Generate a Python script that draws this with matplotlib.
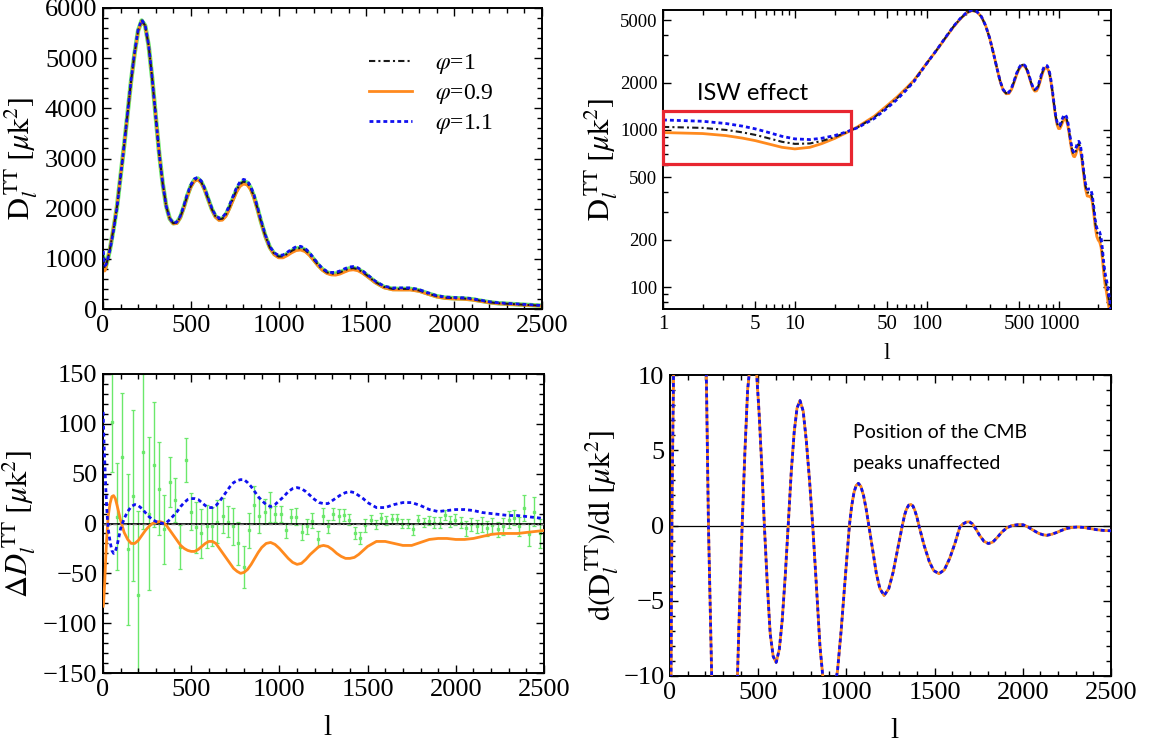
import numpy as np
import matplotlib
matplotlib.use("Agg")
import matplotlib.pyplot as plt
from matplotlib.patches import Rectangle
from matplotlib.ticker import NullFormatter

plt.rcParams['font.family'] = ['Liberation Serif', 'DejaVu Serif']
plt.rcParams['mathtext.fontset'] = 'stix'
plt.rcParams['axes.unicode_minus'] = True

# ---------------- data ----------------
# multipole grid
ell = [1, 2, 3, 4, 5, 6, 8, 10, 13, 16, 20, 25, 30, 40, 50, 60, 70, 80, 100, 120,
       140, 160, 180, 200, 220, 240, 260, 280, 300, 320, 340, 360, 380, 400, 420,
       440, 460, 480, 500, 520, 540, 560, 580, 600, 620, 640, 660, 680, 700, 720,
       740, 760, 780, 800, 820, 840, 860, 880, 900, 925, 950, 975, 1000, 1025,
       1050, 1075, 1100, 1125, 1150, 1175, 1200, 1225, 1250, 1275, 1300, 1325,
       1350, 1375, 1400, 1425, 1450, 1475, 1500, 1550, 1600, 1650, 1700, 1750,
       1800, 1850, 1900, 1950, 2000, 2050, 2100, 2150, 2200, 2250, 2300, 2350,
       2400, 2450, 2500]

# D_l^TT for phi = 1  [muK^2]
dl_phi1 = [1045, 1030, 1000, 965, 930, 895, 840, 815, 820, 850, 900, 970, 1040,
           1200, 1400, 1600, 1820, 2050, 2650, 3250, 3900, 4550, 5100, 5550, 5750,
           5650, 5250, 4600, 3850, 3100, 2500, 2050, 1800, 1710, 1720, 1830, 2030,
           2260, 2450, 2570, 2600, 2530, 2380, 2180, 1990, 1850, 1790, 1800, 1880,
           2030, 2200, 2370, 2490, 2540, 2520, 2420, 2240, 2000, 1740, 1450, 1230,
           1100, 1045, 1050, 1100, 1160, 1205, 1215, 1180, 1100, 990, 880, 790, 730,
           705, 705, 730, 770, 805, 815, 795, 745, 680, 540, 440, 400, 400, 400, 370,
           310, 255, 225, 215, 210, 195, 165, 135, 115, 105, 95, 85, 75, 65]

# Delta D_l^TT relative to phi = 1
ddl_phi09 = [-83, -82, -80, -78, -75, -72, -65, -58, -45, -32, -18, -4, 8, 20, 27,
             28, 25, 18, 3, -9, -16, -20, -20, -17, -12, -7, -3, 0, 1, 2, 1, -2,
             -7, -12, -17, -22, -25, -27, -28, -28, -26, -23, -20, -18, -18, -20,
             -25, -30, -35, -40, -45, -48, -50, -49, -46, -41, -35, -29, -24, -20,
             -19, -21, -25, -30, -35, -39, -41, -40, -36, -31, -27, -23, -22, -23,
             -26, -30, -33, -35, -35, -34, -31, -27, -23, -18, -18, -20, -22, -22,
             -19, -16, -15, -15, -16, -16, -15, -13, -11, -10, -10, -10, -9, -8, -7]
ddl_phi11 = [112, 105, 98, 92, 86, 80, 70, 62, 48, 35, 20, 5, -6, -18, -27, -30,
             -28, -22, -5, 5, 12, 17, 19, 18, 15, 11, 7, 4, 2, 1, 0, 1, 4, 8, 12,
             17, 21, 24, 25, 25, 24, 21, 18, 16, 16, 18, 22, 27, 32, 37, 41, 43,
             44, 44, 41, 37, 32, 27, 23, 19, 17, 19, 23, 27, 32, 35, 36, 35, 32,
             28, 24, 21, 20, 20, 23, 26, 29, 31, 32, 31, 28, 25, 21, 16, 16, 19,
             21, 21, 18, 14, 12, 13, 14, 14, 13, 11, 10, 9, 8, 8, 7, 6, 5]

# binned data residuals (green error bars)
bin_ell = [53, 81, 110, 140, 168, 200, 229, 259, 291, 319, 348, 378, 408, 438,
           469, 499, 527, 557, 588, 618, 648, 678, 708, 739, 767, 798, 828, 858,
           886, 916, 947, 977, 1007, 1037, 1066, 1096, 1126, 1156, 1187, 1217,
           1247, 1276, 1306, 1336, 1366, 1397, 1427, 1457, 1487, 1518, 1548, 1576,
           1606, 1636, 1666, 1697, 1727, 1757, 1787, 1817, 1848, 1878, 1908, 1936,
           1966, 1996, 2027, 2057, 2087, 2118, 2148, 2178, 2208, 2238, 2269, 2299,
           2329, 2359, 2386, 2416, 2446, 2476]
bin_resid = [102, 7, 67, -26, 28, -72, 72, 10, 59, 35, -6, 42, 24, -24, 64, 12,
             -4, -10, -3, -3, 2, 8, 2, -3, -20, -44, -7, 19, 8, 12, 17, 10, 10, -7,
             7, 7, -9, -3, 3, -16, 8, -3, 10, 8, 9, 4, -10, -15, -2, 4, -1, 6, 3,
             5, 5, 0, 0, -6, 4, 1, 3, 1, 1, 9, 2, 4, 1, -5, -1, -3, -1, -5, -2, -6,
             -3, 4, 6, -3, 16, -11, 12, -10]
bin_err = [50, 54, 64, 76, 86, 85, 78, 77, 63, 47, 35, 25, 22, 22, 22, 19, 26, 25,
           22, 20, 22, 18, 16, 19, 22, 21, 18, 19, 18, 13, 15, 8, 8, 8, 8, 9, 8, 8,
           8, 8, 8, 7, 6, 7, 6, 6, 6, 6, 7, 5, 5, 5, 5, 5, 5, 5, 5, 6, 5, 5, 5, 6,
           6, 5, 6, 6, 6, 8, 7, 7, 8, 8, 8, 8, 9, 9, 8, 10, 13, 12, 15, 15]

# derivative dD_l/dl
deriv_ell = [1, 4, 8, 12, 20, 30, 60, 100, 150, 180, 200, 218, 240, 260, 280, 300,
             320, 340, 360, 380, 395, 409, 425, 440, 455, 475, 490, 505, 520, 535,
             552, 568, 585, 602, 620, 636, 653, 670, 687, 704, 720, 737, 755, 773,
             791, 809, 830, 850, 870, 890, 905, 925, 950, 970, 990, 1017, 1030,
             1043, 1055, 1068, 1082, 1097, 1112, 1127, 1150, 1170, 1190, 1214, 1240,
             1265, 1290, 1317, 1330, 1341, 1353, 1365, 1377, 1388, 1400, 1411, 1440,
             1470, 1495, 1525, 1555, 1585, 1615, 1643, 1660, 1680, 1697, 1715, 1735,
             1755, 1780, 1805, 1830, 1855, 1880, 1910, 1940, 1970, 2002, 2030, 2060,
             2090, 2115, 2137, 2165, 2195, 2225, 2255, 2285, 2313, 2345, 2380, 2420,
             2460, 2500]
deriv_vals = [-40, -15, -5, 2, 10, 15, 20, 30, 32, 25, 15, 0, -12, -28, -36, -38,
              -34, -26, -18, -11, -5, 0, 5, 9, 10.8, 11.3, 10.3, 7.5, 4, 0, -4, -7.2,
              -8.7, -9.1, -8.2, -6.3, -3.4, 0, 3.5, 6.2, 7.8, 8.3, 7.6, 5.6, 3, 0, -4,
              -8, -10.5, -12, -12.3, -11.5, -9.6, -7, -4, 0, 1.3, 2.2, 2.65, 2.8, 2.6,
              2.0, 1.1, 0, -1.7, -3.2, -4.2, -4.65, -4.2, -3.1, -1.6, 0, 0.7, 1.1, 1.35,
              1.4, 1.3, 1.0, 0.55, 0, -1.3, -2.4, -3.0, -3.2, -2.95, -2.2, -1.2, -0.1,
              0.1, 0.22, 0.25, 0.1, -0.25, -0.65, -1.05, -1.2, -1.1, -0.8, -0.45, -0.15,
              0.0, 0.05, 0.05, -0.1, -0.32, -0.52, -0.62, -0.65, -0.58, -0.45, -0.3,
              -0.18, -0.12, -0.1, -0.13, -0.2, -0.28, -0.33, -0.35]

legend_labels = [r'$\varphi$=1', r'$\varphi$=0.9', r'$\varphi$=1.1']

ell_a = np.array(ell, dtype=float)
dl1 = np.array(dl_phi1, dtype=float)
dl09 = dl1 + np.array(ddl_phi09, dtype=float)
dl11 = dl1 + np.array(ddl_phi11, dtype=float)
zero_delta = np.zeros_like(dl1)

# ---------------- styles ----------------
C_BLACK = '#1a1a1a'
C_ORANGE = '#FF8A1E'
C_BLUE = '#1010F0'
C_GREEN = '#6BE86B'
S_BLACK = dict(color=C_BLACK, lw=1.5, ls=(0, (3.0, 1.5, 1.0, 1.5)))
S_ORANGE = dict(color=C_ORANGE, lw=2.0, ls='-')
S_BLUE = dict(color=C_BLUE, lw=2.0, ls=(0, (1.4, 1.1)))

W, H = 1151, 747
fig = plt.figure(figsize=(W / 100, H / 100), dpi=100)


def px_axes(l, t, r, b):
    return fig.add_axes([l / W, 1 - b / H, (r - l) / W, (b - t) / H])


def style_axes(ax, size):
    for s in ax.spines.values():
        s.set_linewidth(1.4)
        s.set_color('black')
    ax.tick_params(which='both', direction='in', top=True, right=True,
                   labelsize=size, pad=4, width=1.0)
    ax.tick_params(which='major', length=6)
    ax.tick_params(which='minor', length=3.5)


ylab_tt = r'$\mathrm{D}_{l}^{\,\mathrm{TT}}\ [\mu\mathrm{k}^{2}]$'

# ---------------- top-left ----------------
ax1 = px_axes(103, 8, 542, 309)
ax1.plot(ell_a, dl1, color=C_GREEN, lw=3.2, zorder=1)
ax1.plot(ell_a, dl1, label=legend_labels[0], zorder=3, **S_BLACK)
ax1.plot(ell_a, dl09, label=legend_labels[1], zorder=2, **S_ORANGE)
ax1.plot(ell_a, dl11, label=legend_labels[2], zorder=4, **S_BLUE)
ax1.set_xlim(0, 2500)
ax1.set_ylim(0, 6000)
ax1.set_xticks(np.arange(0, 2501, 500))
ax1.set_xticks(np.arange(0, 2501, 100), minor=True)
ax1.set_yticks(np.arange(0, 6001, 1000))
ax1.set_yticks(np.arange(0, 6001, 200), minor=True)
style_axes(ax1, 19)
ax1.set_ylabel(ylab_tt, fontsize=22)
ax1.yaxis.set_label_coords(-0.144, 0.5)
ax1.legend(loc='upper left', bbox_to_anchor=(0.585, 0.885), frameon=False,
           fontsize=17, handlelength=1.8, handletextpad=1.0, labelspacing=0.25,
           borderaxespad=0)

# ---------------- top-right ----------------
ax2 = px_axes(663, 10, 1111, 309)
ax2.plot(ell_a, dl1, zorder=3, **S_BLACK)
ax2.plot(ell_a, dl09, zorder=2, **S_ORANGE)
ax2.plot(ell_a, dl11, zorder=4, **S_BLUE)
ax2.set_xscale('log')
ax2.set_yscale('log')
ax2.set_xlim(1, 2500)
ax2.set_ylim(72.6, 5790)
xmaj = [1, 5, 10, 50, 100, 500, 1000]
ax2.set_xticks(xmaj, labels=[str(v) for v in xmaj])
xmin = [d * m for d in (1, 10, 100, 1000) for m in range(2, 10)
        if d * m <= 2500 and d * m not in xmaj]
ax2.set_xticks(xmin, minor=True)
ax2.xaxis.set_minor_formatter(NullFormatter())
ymaj = [100, 200, 500, 1000, 2000, 5000]
ax2.set_yticks(ymaj, labels=[str(v) for v in ymaj])
ymin = [d * m for d in (10, 100, 1000) for m in range(2, 10)
        if 72 < d * m < 5790 and d * m not in ymaj]
ax2.set_yticks(ymin, minor=True)
ax2.yaxis.set_minor_formatter(NullFormatter())
style_axes(ax2, 13.5)
ax2.tick_params(axis='x', labelsize=15)
ax2.set_ylabel(ylab_tt, fontsize=22)
ax2.yaxis.set_label_coords(-0.096, 0.5)
ax2.set_xlabel('l', fontsize=17)
ax2.xaxis.set_label_coords(0.5, -0.115)
ax2.add_patch(Rectangle((1, 609), 26.5 - 1, 1319 - 609, fill=False,
                        edgecolor='#E82630', lw=2.3, zorder=5, clip_on=False))
fig.text(697 / W, 1 - 94 / H, 'ISW effect', family=['Lato', 'DejaVu Sans'],
         fontsize=17, va='center', ha='left')

# ---------------- bottom-left ----------------
ax3 = px_axes(103, 374, 544, 673)
ax3.errorbar(bin_ell, bin_resid, yerr=bin_err, fmt='s', ms=1.8, color=C_GREEN,
             ecolor=C_GREEN, elinewidth=1.0, capsize=1.6, capthick=0.9, zorder=1)
ax3.axhline(0, color='black', lw=1.3, zorder=2)
ax3.plot(ell_a, zero_delta, zorder=3, **dict(S_BLACK, color='#777777', lw=1.0))
ax3.plot(ell_a, np.array(ddl_phi09), zorder=4, **S_ORANGE)
ax3.plot(ell_a, np.array(ddl_phi11), zorder=5, **S_BLUE)
ax3.set_xlim(0, 2500)
ax3.set_ylim(-150, 150)
ax3.set_xticks(np.arange(0, 2501, 500))
ax3.set_xticks(np.arange(0, 2501, 100), minor=True)
ax3.set_yticks(np.arange(-150, 151, 50))
ax3.set_yticks(np.arange(-150, 151, 10), minor=True)
style_axes(ax3, 19)
ax3.set_ylabel(r'$\Delta D_{l}^{\,\mathrm{TT}}\ [\mu\mathrm{k}^{2}]$', fontsize=22)
ax3.yaxis.set_label_coords(-0.147, 0.5)
ax3.set_xlabel('l', fontsize=21)
ax3.xaxis.set_label_coords(0.508, -0.14)

# ---------------- bottom-right ----------------
ax4 = px_axes(670, 375, 1111, 676)
ax4.axhline(0, color='black', lw=0.9, zorder=1)
ax4.plot(deriv_ell, deriv_vals, zorder=2, **S_BLACK)
ax4.plot(deriv_ell, deriv_vals, zorder=3, **S_ORANGE)
ax4.plot(deriv_ell, deriv_vals, zorder=4, **S_BLUE)
ax4.set_xlim(0, 2500)
ax4.set_ylim(-10, 10)
ax4.set_xticks(np.arange(0, 2501, 500))
ax4.set_xticks(np.arange(0, 2501, 100), minor=True)
ax4.set_yticks(np.arange(-10, 11, 5))
ax4.set_yticks(np.arange(-10, 11, 1), minor=True)
style_axes(ax4, 19)
ax4.set_ylabel(r'$\mathrm{d(D}_{l}^{\,\mathrm{TT}}\mathrm{)/dl}\ [\mu\mathrm{k}^{2}]$',
               fontsize=22)
ax4.yaxis.set_label_coords(-0.111, 0.5)
ax4.set_xlabel('l', fontsize=21)
ax4.xaxis.set_label_coords(0.508, -0.14)
fig.text(853 / W, 1 - 433 / H, 'Position of the CMB', family=['Lato', 'DejaVu Sans'],
         fontsize=14, va='center', ha='left')
fig.text(853 / W, 1 - 463 / H, 'peaks unaffected', family=['Lato', 'DejaVu Sans'],
         fontsize=14, va='center', ha='left')

fig.savefig('out.png', dpi=100)
